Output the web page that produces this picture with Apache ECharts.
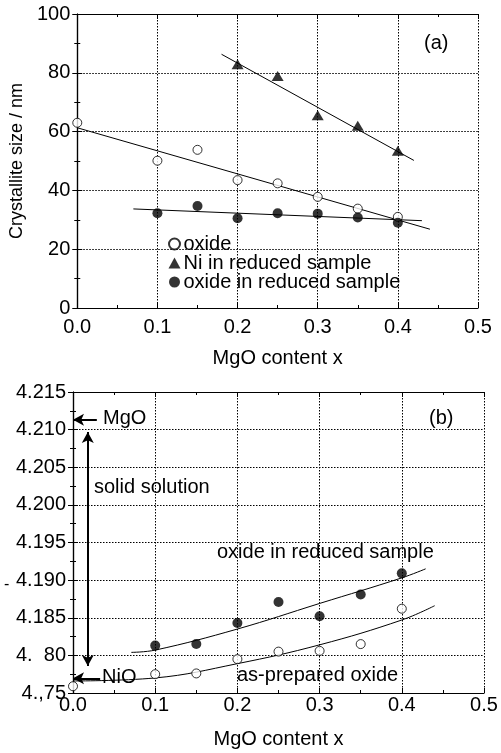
<!DOCTYPE html>
<html><head><meta charset="utf-8">
<script src="https://cdn.jsdelivr.net/npm/echarts@6/dist/echarts.min.js"></script>
<style>html,body{margin:0;padding:0;background:#fff}#c{width:501px;height:753px}</style>
</head><body><div id="c"></div>
<script>
// ---- Panel (a): crystallite size ----
const xA = [0.0, 0.1, 0.15, 0.2, 0.25, 0.3, 0.35, 0.4];
const oxideSize = [63.0, 50.1, 53.8, 43.5, 42.4, 37.8, 33.8, 31.0];
const xNi = [0.2, 0.25, 0.3, 0.35, 0.4];
const niSize = [82.9, 78.9, 65.6, 62.0, 53.5];
const xRed = [0.1, 0.15, 0.2, 0.25, 0.3, 0.35, 0.4];
const redSize = [32.2, 34.7, 30.5, 32.2, 32.1, 30.8, 29.0];
// fitted lines (endpoints)
const fitOxideA = [[0.0, 61.3], [0.44, 26.8]];
const fitNiA = [[0.18, 86.3], [0.42, 50.2]];
const fitRedA = [[0.07, 33.7], [0.43, 29.7]];
const xTicksA = ['0.0', '0.1', '0.2', '0.3', '0.4', '0.5'];
const yTicksA = ['0', '20', '40', '60', '80', '100'];

// ---- Panel (b): lattice constant ----
const prepLat = [4.1759, 4.1775, 4.1776, 4.1795, 4.1805, 4.1806, 4.1815, 4.1862];
const redLat = [4.1813, 4.1815, 4.1843, 4.1871, 4.1852, 4.1881, 4.1909];
const curvePrep = [[0.0, 4.1766], [0.1, 4.1770], [0.2, 4.1789], [0.3, 4.1814], [0.4, 4.1847], [0.44, 4.1866]];
const curveRed = [[0.071, 4.1804], [0.1, 4.1807], [0.2, 4.1835], [0.3, 4.1869], [0.4, 4.1903], [0.429, 4.1915]];
const yTicksB = ['4.,75', '4.  80', '4.185', '4.190', '4.195', '4.200', '4.205', '4.210', '4.215'];

const zip = (xs, ys) => xs.map((x, i) => [x, ys[i]]);
const FONT = 'Liberation Sans, Arial, sans-serif';
const chart = echarts.init(document.getElementById('c'), null, {renderer: 'canvas'});

const axisLineStyle = {lineStyle: {color: '#000', width: 1.2}};
const gridLine = {show: true, lineStyle: {color: '#000', type: [1.5, 1.5], width: 1}};
function xAx(gi, main, extra) {
  return Object.assign({
    type: 'value', gridIndex: gi, min: 0, max: 0.5, interval: 0.1,
    position: main ? 'bottom' : 'top',
    axisLine: Object.assign({show: true, onZero: false}, axisLineStyle),
    axisTick: {show: true, inside: true, length: 5, lineStyle: {color: '#000'}},
    minorTick: {show: true, splitNumber: 2, length: 3, lineStyle: {color: '#000'}},
    splitLine: main ? gridLine : {show: false},
    axisLabel: main ? {show: true, color: '#000', fontSize: 20, fontFamily: FONT,
      formatter: v => xTicksA[Math.round(v / 0.1)]} : {show: false}
  }, extra || {});
}

chart.setOption({
  animation: false,
  backgroundColor: '#fff',
  grid: [
    {left: 77, top: 14, width: 401, height: 294},
    {left: 73, top: 392, width: 411, height: 301}
  ],
  xAxis: [
    xAx(0, true, {name: 'MgO content x', nameLocation: 'middle', nameGap: 40,
      nameTextStyle: {color: '#000', fontSize: 20, fontFamily: FONT}, axisLabel: {color: '#000', fontSize: 20, fontFamily: FONT, margin: 9, formatter: v => xTicksA[Math.round(v / 0.1)]}}),
    xAx(0, false),
    xAx(1, true, {name: 'MgO content x', nameLocation: 'middle', nameGap: 36,
      nameTextStyle: {color: '#000', fontSize: 20, fontFamily: FONT}, axisLabel: {color: '#000', fontSize: 20, fontFamily: FONT, margin: 2, formatter: v => xTicksA[Math.round(v / 0.1)]}}),
    xAx(1, false)
  ],
  yAxis: [
    {type: 'value', gridIndex: 0, min: 0, max: 100, interval: 20, position: 'left',
      name: 'Crystallite size / nm', nameLocation: 'middle', nameGap: 45, nameRotate: 90,
      nameTextStyle: {color: '#000', fontSize: 18, fontFamily: FONT},
      axisLine: Object.assign({show: true}, axisLineStyle),
      axisTick: {show: true, inside: true, length: 5, lineStyle: {color: '#000'}},
      minorTick: {show: true, splitNumber: 2, length: 3, lineStyle: {color: '#000'}},
      splitLine: gridLine,
      axisLabel: {color: '#000', fontSize: 20, fontFamily: FONT, margin: 7, formatter: v => yTicksA[Math.round(v / 20)]}},
    {type: 'value', gridIndex: 0, min: 0, max: 100, interval: 20, position: 'right',
      axisLine: Object.assign({show: true}, axisLineStyle),
      axisTick: {show: true, inside: true, length: 5, lineStyle: {color: '#000'}},
      minorTick: {show: true, splitNumber: 2, length: 3, lineStyle: {color: '#000'}},
      splitLine: {show: false}, axisLabel: {show: false}},
    {type: 'value', gridIndex: 1, min: 4.175, max: 4.215, interval: 0.005, position: 'left',
      axisLine: Object.assign({show: true}, axisLineStyle),
      axisTick: {show: true, inside: true, length: 5, lineStyle: {color: '#000'}},
      minorTick: {show: true, splitNumber: 2, length: 3, lineStyle: {color: '#000'}},
      splitLine: gridLine,
      axisLabel: {color: '#000', fontSize: 20, fontFamily: FONT, margin: 7, formatter: v => yTicksB[Math.round((v - 4.175) / 0.005)]}},
    {type: 'value', gridIndex: 1, min: 4.175, max: 4.215, interval: 0.005, position: 'right',
      axisLine: Object.assign({show: true}, axisLineStyle),
      axisTick: {show: true, inside: true, length: 5, lineStyle: {color: '#000'}},
      minorTick: {show: true, splitNumber: 2, length: 3, lineStyle: {color: '#000'}},
      splitLine: {show: false}, axisLabel: {show: false}}
  ],
  legend: {
    orient: 'vertical', left: 163, top: 229, itemGap: -1, itemWidth: 12, itemHeight: 11,
    textStyle: {color: '#000', fontSize: 20, fontFamily: FONT, lineHeight: 20, padding: [0, 0, 0, -2]},
    data: ['oxide', 'Ni in reduced sample', 'oxide in reduced sample']
  },
  series: [
    {type: 'line', xAxisIndex: 0, yAxisIndex: 0, data: fitOxideA, symbol: 'none', lineStyle: {color: '#000', width: 1}, z: 1, silent: true},
    {type: 'line', xAxisIndex: 0, yAxisIndex: 0, data: fitNiA, symbol: 'none', lineStyle: {color: '#000', width: 1}, z: 1, silent: true},
    {type: 'line', xAxisIndex: 0, yAxisIndex: 0, data: fitRedA, symbol: 'none', lineStyle: {color: '#000', width: 1}, z: 1, silent: true},
    {name: 'oxide', type: 'scatter', xAxisIndex: 0, yAxisIndex: 0, data: zip(xA, oxideSize), symbol: 'circle', symbolSize: 9,
      itemStyle: {color: '#fff', borderColor: '#000', borderWidth: 1}, z: 3},
    {name: 'Ni in reduced sample', type: 'scatter', xAxisIndex: 0, yAxisIndex: 0, data: zip(xNi, niSize), symbol: 'triangle', symbolSize: [12, 10],
      itemStyle: {color: '#000'}, z: 3},
    {name: 'oxide in reduced sample', type: 'scatter', xAxisIndex: 0, yAxisIndex: 0, data: zip(xRed, redSize), symbol: 'circle', symbolSize: 10,
      itemStyle: {color: '#000'}, z: 3},

    {type: 'line', xAxisIndex: 2, yAxisIndex: 2, data: curvePrep, symbol: 'none', smooth: 0.4, lineStyle: {color: '#000', width: 1}, z: 1, silent: true},
    {type: 'line', xAxisIndex: 2, yAxisIndex: 2, data: curveRed, symbol: 'none', smooth: 0.4, lineStyle: {color: '#000', width: 1}, z: 1, silent: true},
    {type: 'scatter', xAxisIndex: 2, yAxisIndex: 2, data: zip(xA, prepLat), symbol: 'circle', symbolSize: 9,
      itemStyle: {color: '#fff', borderColor: '#000', borderWidth: 1}, z: 3},
    {type: 'scatter', xAxisIndex: 2, yAxisIndex: 2, data: zip(xRed, redLat), symbol: 'circle', symbolSize: 10,
      itemStyle: {color: '#000'}, z: 3,
      markLine: {
        silent: true, animation: false, label: {show: false},
        lineStyle: {color: '#000', width: 2, type: 'solid'},
        symbolSize: [9, 11],
        data: [
          [{coord: [0.029, 4.2113], symbol: 'none'}, {coord: [0.0, 4.2113], symbol: 'arrow'}],
          [{coord: [0.033, 4.17695], symbol: 'none'}, {coord: [0.0, 4.17695], symbol: 'arrow'}],
          [{coord: [0.018, 4.1786], symbol: 'arrow'}, {coord: [0.018, 4.2097], symbol: 'arrow'}]
        ]
      }}
  ],
  graphic: [
    {type: 'text', left: 424, top: 33, style: {text: '(a)', font: '20px ' + FONT, fill: '#000'}},
    {type: 'text', left: 429, top: 408, style: {text: '(b)', font: '20px ' + FONT, fill: '#000'}},
    {type: 'text', left: 103, top: 408, style: {text: 'MgO', font: '20px ' + FONT, fill: '#000'}},
    {type: 'text', left: 102, top: 667, style: {text: 'NiO', font: '20px ' + FONT, fill: '#000'}},
    {type: 'text', left: 94, top: 477, style: {text: 'solid solution', font: '20px ' + FONT, fill: '#000'}},
    {type: 'text', left: 217, top: 542, style: {text: 'oxide in reduced sample', font: '20px ' + FONT, fill: '#000'}},
    {type: 'text', left: 237, top: 665, style: {text: 'as-prepared oxide', font: '20px ' + FONT, fill: '#000'}},
    {type: 'text', left: 4, top: 577, style: {text: '-', font: '16px ' + FONT, fill: '#000'}}
  ]
});
</script></body></html>
